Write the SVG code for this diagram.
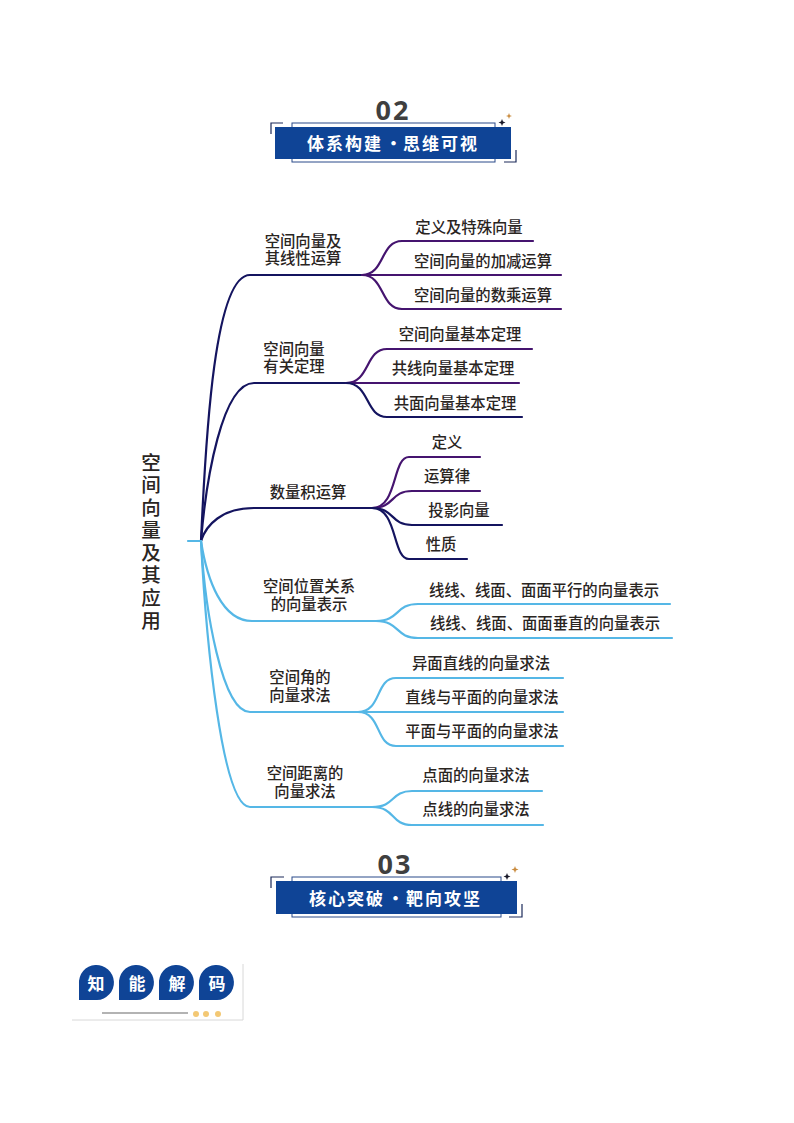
<svg xmlns="http://www.w3.org/2000/svg" width="794" height="1123" viewBox="0 0 794 1123">
<style>
text{font-family:"Noto Sans CJK SC","Noto Sans",sans-serif;}
.l{font-size:15.35px;fill:#2a251f;text-anchor:middle;font-weight:500;}
.r{font-size:19.5px;fill:#2a251f;text-anchor:middle;font-weight:500;}
.c{fill:none;stroke-width:2.2;stroke-linecap:round;}
.n{stroke:#14145f;}
.p{stroke:#45146f;}
.b{stroke:#55b7e6;}
.ttl{font-size:17px;font-weight:700;fill:#fff;letter-spacing:2px;}
.num{font-family:"Open Sans","Noto Sans",sans-serif;font-size:27px;font-weight:700;fill:#3f3f3f;letter-spacing:2px;text-anchor:middle;}
.bk{fill:#0f4496;}
.k{font-size:17px;font-weight:700;fill:#fff;text-anchor:middle;}
</style>
<rect width="794" height="1123" fill="#fff"/>
<g id="connectors">
<path class="c n" d="M201 541C206 430 215 275 250 275H362"/>
<path class="c n" d="M201 541C206 480 222 383 254 383H346"/>
<path class="c n" d="M201 541C206 525 222 508 254 508H372"/>
<path class="c b" d="M188 541H201C207 580 222 621 252 621H376"/>
<path class="c b" d="M201 541C205 610 222 712 250 712H358"/>
<path class="c b" d="M201 541C206 640 222 807 250 807H372"/>
<path class="c p" d="M362 275C385 275 380 241 402 241H533"/>
<path class="c p" d="M362 275H561"/>
<path class="c p" d="M362 275C385 275 380 309 402 309H561"/>
<path class="c p" d="M346 383C370 383 365 349 387 349H532"/>
<path class="c p" d="M346 383H519"/>
<path class="c n" d="M346 383C370 383 365 417 387 417H522"/>
<path class="c p" d="M372 508C398 508 392 457 409 457H480"/>
<path class="c p" d="M372 508C395 508 390 491 412 491H480"/>
<path class="c n" d="M372 508C395 508 390 525 412 525H502"/>
<path class="c n" d="M372 508C398 508 392 559 409 559H467"/>
<path class="c b" d="M376 621C400 621 395 604 418 604H670"/>
<path class="c b" d="M376 621C400 621 395 638 418 638H672"/>
<path class="c b" d="M358 712C382 712 375 678 396 678H563"/>
<path class="c b" d="M358 712H563"/>
<path class="c b" d="M358 712C382 712 375 746 396 746H563"/>
<path class="c b" d="M372 807C396 807 390 791 412 791H542"/>
<path class="c b" d="M372 807C396 807 390 825 412 825H543"/>
</g>
<g id="header-02">
<text class="num" x="393" y="120">02</text>
<path d="M271 134V123H283" fill="none" stroke="#1c2a5a" stroke-width="1.2"/>
<path d="M516 150V162H504" fill="none" stroke="#1c2a5a" stroke-width="1.2"/>
<rect x="292" y="123" width="203" height="39" fill="#fff" stroke="#2a4a8a" stroke-width="1"/>
<rect x="275" y="127" width="236" height="32" fill="#0f4496"/>
<text class="ttl" y="149.500"><tspan x="307">体系构建</tspan><tspan x="385">·</tspan><tspan x="403">思维可视</tspan></text>
<path d="M502 119l1 2.500 2.500 1-2.500 1-1 2.500-1-2.500-2.500-1 2.500-1z" fill="#1a1a2a"/>
<path d="M509 113l.8 2.200 2.200.8-2.200.8-.8 2.200-.8-2.200-2.200-.8 2.200-.8z" fill="#c98a3c"/>
</g>
<g id="header-03">
<text class="num" x="395" y="874">03</text>
<path d="M271 888V877H284" fill="none" stroke="#1c2a5a" stroke-width="1.2"/>
<path d="M522 904V917H509" fill="none" stroke="#1c2a5a" stroke-width="1.2"/>
<rect x="292" y="877" width="209" height="40" fill="#fff" stroke="#2a4a8a" stroke-width="1"/>
<rect x="276" y="881" width="241" height="33" fill="#0f4496"/>
<text class="ttl" y="904.500"><tspan x="309">核心突破</tspan><tspan x="387">·</tspan><tspan x="406">靶向攻坚</tspan></text>
<path d="M507 873l1 2.500 2.500 1-2.500 1-1 2.500-1-2.500-2.500-1 2.500-1z" fill="#1a1a2a"/>
<path d="M515 866l.9 2.600 2.600.9-2.600.9-.9 2.600-.9-2.600-2.600-.9 2.600-.9z" fill="#c98a3c"/>
</g>
<g id="root"><text class="r" x="151" y="469.500">空</text><text class="r" x="151" y="492">间</text><text class="r" x="151" y="514.600">向</text><text class="r" x="151" y="537.200">量</text><text class="r" x="151" y="559.800">及</text><text class="r" x="151" y="582.300">其</text><text class="r" x="151" y="604.900">应</text><text class="r" x="151" y="627.500">用</text></g>
<g id="n1"><text class="l" x="303" y="247">空间向量及</text><text class="l" x="303" y="264">其线性运算</text></g>
<g id="n2"><text class="l" x="294" y="355">空间向量</text><text class="l" x="294" y="372">有关定理</text></g>
<g id="n3"><text class="l" x="308" y="497.500">数量积运算</text></g>
<g id="n4"><text class="l" x="309" y="592">空间位置关系</text><text class="l" x="309" y="610">的向量表示</text></g>
<g id="n5"><text class="l" x="300" y="683">空间角的</text><text class="l" x="300" y="701">向量求法</text></g>
<g id="n6"><text class="l" x="305" y="779">空间距离的</text><text class="l" x="305" y="796.500">向量求法</text></g>
<g id="n1a"><text class="l" x="469" y="232.500">定义及特殊向量</text></g>
<g id="n1b"><text class="l" x="483" y="266.500">空间向量的加减运算</text></g>
<g id="n1c"><text class="l" x="483" y="300.500">空间向量的数乘运算</text></g>
<g id="n2a"><text class="l" x="460" y="339.500">空间向量基本定理</text></g>
<g id="n2b"><text class="l" x="453" y="374">共线向量基本定理</text></g>
<g id="n2c"><text class="l" x="455" y="408.500">共面向量基本定理</text></g>
<g id="n3a"><text class="l" x="447" y="447.500">定义</text></g>
<g id="n3b"><text class="l" x="447" y="482">运算律</text></g>
<g id="n3c"><text class="l" x="459" y="516">投影向量</text></g>
<g id="n3d"><text class="l" x="441" y="550">性质</text></g>
<g id="n4a"><text class="l" x="544" y="595.500">线线、线面、面面平行的向量表示</text></g>
<g id="n4b"><text class="l" x="545" y="629">线线、线面、面面垂直的向量表示</text></g>
<g id="n5a"><text class="l" x="481" y="668.500">异面直线的向量求法</text></g>
<g id="n5b"><text class="l" x="482" y="702.500">直线与平面的向量求法</text></g>
<g id="n5c"><text class="l" x="482" y="737">平面与平面的向量求法</text></g>
<g id="n6a"><text class="l" x="476" y="781">点面的向量求法</text></g>
<g id="n6b"><text class="l" x="476" y="815">点线的向量求法</text></g>
<g id="badge">
<path d="M72 1020H243V964" fill="none" stroke="#d8d8d8" stroke-width="1"/>
<path class="bk" d="M79 1000V984A17.500 17.500 0 1 1 97 1000Z"/>
<path class="bk" d="M119 1000V984A17.500 17.500 0 1 1 137 1000Z"/>
<path class="bk" d="M159 1000V984A17.500 17.500 0 1 1 177 1000Z"/>
<path class="bk" d="M199 1000V984A17.500 17.500 0 1 1 217 1000Z"/>
<text class="k" x="96" y="990">知</text><text class="k" x="137" y="990">能</text><text class="k" x="177" y="990">解</text><text class="k" x="217" y="990">码</text>
<line x1="102" y1="1013" x2="188" y2="1013" stroke="#9a9a9a" stroke-width="1.500"/>
<circle cx="196" cy="1014" r="3" fill="#f3c874"/><circle cx="206" cy="1014" r="3" fill="#f3c874"/><circle cx="218" cy="1014" r="3" fill="#f3c874"/>
</g>
</svg>
